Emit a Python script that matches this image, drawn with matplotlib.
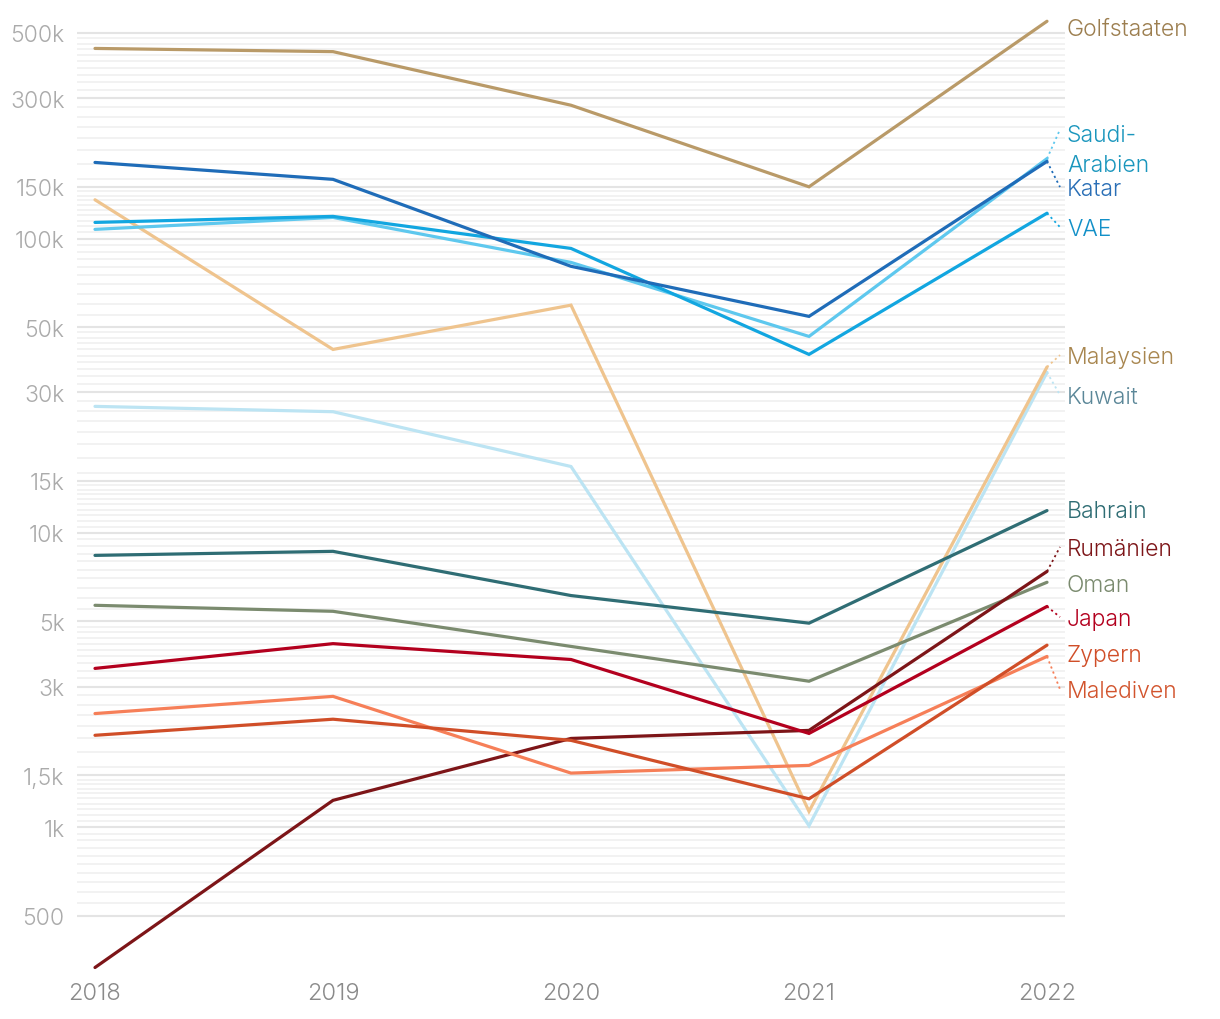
import numpy as np
import matplotlib
matplotlib.use("Agg")
import matplotlib.pyplot as plt

plt.rcParams["font.family"] = ["Inter", "DejaVu Sans"]
plt.rcParams["font.weight"] = 300

years = [2018, 2019, 2020, 2021, 2022]

# Werte (log-Skala)
golfstaaten = [443000, 432000, 284000, 150000, 548000]
saudi_arabien = [107500, 118000, 83000, 46500, 187000]
vae = [113500, 119000, 92600, 40400, 122000]
katar = [181500, 159000, 80500, 54400, 183000]
malaysien = [135500, 42000, 59400, 1130, 36600]
kuwait = [26900, 25800, 16800, 1010, 35100]
bahrain = [8380, 8650, 6120, 4930, 11900]
oman = [5670, 5410, 4110, 3130, 6790]
rumaenien = [333, 1232, 2000, 2130, 7390]
japan = [3460, 4200, 3710, 2080, 5620]
malediven = [2430, 2780, 1525, 1620, 3800]
zypern = [2050, 2325, 1970, 1247, 4150]

ytick_vals = [500, 1000, 1500, 3000, 5000, 10000, 15000, 30000, 50000,
              100000, 150000, 300000, 500000]
ytick_labels = ["500", "1k", "1,5k", "3k", "5k", "10k", "15k", "30k", "50k",
                "100k", "150k", "300k", "500k"]

# name, values, line colour, label colour, label y (data), connector?
series = [
    ("Kuwait", kuwait, "#bce4f3", "#5b8798", 29400, True),
    ("Malaysien", malaysien, "#efc48e", "#a8864f", 40200, True),
    ("Saudi-\nArabien", saudi_arabien, "#5ec8ee", "#1a96bd", 228000, True),
    ("VAE", vae, "#12a6e0", "#1290c8", 109400, True),
    ("Katar", katar, "#1f6cb8", "#2a6fb6", 149700, True),
    ("Golfstaaten", golfstaaten, "#b99a68", "#9c7e4f", 523000, False),
    ("Bahrain", bahrain, "#2f6d74", "#2f6d74", 12050, False),
    ("Oman", oman, "#7b8b6f", "#7b8b6f", 6750, False),
    ("Rumänien", rumaenien, "#7d1518", "#7d1518", 8950, True),
    ("Japan", japan, "#b3001e", "#b3001e", 5170, True),
    ("Malediven", malediven, "#f67f58", "#d2542d", 2940, True),
    ("Zypern", zypern, "#d04e28", "#d04e28", 3900, False),
]

fig = plt.figure(figsize=(12.2, 10.2), dpi=100)
ax = fig.add_axes([77 / 1220, 1 - 975 / 1020, 988 / 1220, 960 / 1020])
ax.set_yscale("log")
ax.set_xlim(2018 - 18 / 238, 2022 + 18 / 238)
ax.set_ylim(316.5, 580000)

# feines Gitter
minor = []
for d in [100, 1000, 10000, 100000]:
    for a, b, s in [(1.05, 1.49, 0.05), (1.6, 2.99, 0.2), (3.2, 4.99, 0.2), (5.5, 9.99, 0.5)]:
        minor.extend(np.arange(a, b, s) * d)
minor = [v for v in minor if 500 < v < 500000]
for v in minor:
    ax.axhline(v, color="#f1f1f1", lw=1.3, zorder=0)
for v in ytick_vals:
    ax.axhline(v, color="#e4e4e4", lw=1.5, zorder=0)

for name, vals, col, lcol, ly, conn in series:
    ax.plot(years, vals, color=col, lw=2.3, solid_capstyle="round",
            solid_joinstyle="miter", zorder=3)
    if conn:
        ax.plot([2022, 2022 + 13 / 238], [vals[-1], ly * (1.03 if "\n" in name else 1.0)],
                color=col, lw=1.3, ls=(0, (1.2, 1.8)), clip_on=False, zorder=3)
    for i, part in enumerate(name.split("\n")):
        ax.annotate(part, xy=(2022, ly), xytext=(20, -2 - 30 * i),
                    textcoords="offset pixels", va="center", ha="left",
                    fontsize=16.5, color=lcol, annotation_clip=False)

ax.set_yticks(ytick_vals)
ax.set_yticklabels(ytick_labels)
ax.yaxis.set_minor_locator(matplotlib.ticker.NullLocator())
ax.set_xticks(years)
ax.set_xticklabels([str(y) for y in years])
ax.tick_params(axis="y", length=0, pad=9, labelsize=16.5, labelcolor="#ababab")
ax.tick_params(axis="x", length=0, pad=6, labelsize=17, labelcolor="#8a8a8a")
for sp in ax.spines.values():
    sp.set_visible(False)

fig.savefig("out.png", dpi=100)
